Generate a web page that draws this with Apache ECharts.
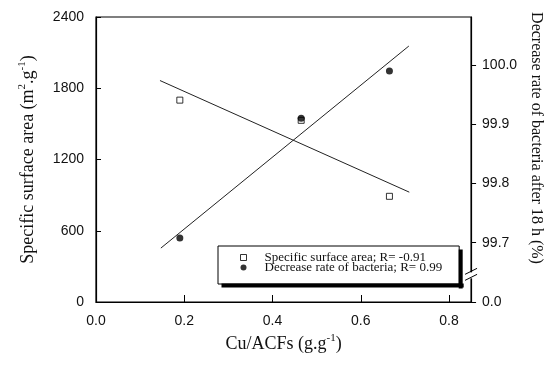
<!DOCTYPE html>
<html>
<head>
<meta charset="utf-8">
<script src="https://cdn.jsdelivr.net/npm/echarts@6/dist/echarts.min.js"></script>
<style>html,body{margin:0;padding:0;background:#fff}#c{width:552px;height:365px}</style>
</head>
<body>
<div id="c"></div>
<script>
// ---- data ----
const cuLoading = [0.19, 0.465, 0.665];               // Cu/ACFs (g/g)
const surfaceArea = [1700, 1530, 890];                // m2/g (left axis)
const bacteriaRate = [99.708, 99.91, 99.99];           // % (right axis)
const surfaceFitX = [0.145, 0.71];
const surfaceFitY = [1865, 925];
const bacteriaFitX = [0.147, 0.709];
const bacteriaFitY = [99.691, 100.032];
const xTickValues = [0, 0.2, 0.4, 0.6, 0.8];
const xTickLabels = ['0.0', '0.2', '0.4', '0.6', '0.8'];
const leftTickValues = [0, 600, 1200, 1800, 2400];
const leftTickLabels = ['0', '600', '1200', '1800', '2400'];
const rightTickValues = [99.6, 99.7, 99.8, 99.9, 100.0];
const rightTickLabels = ['0.0', '99.7', '99.8', '99.9', '100.0'];
const seriesNames = ['Specific surface area; R= -0.91', 'Decrease rate of bacteria; R= 0.99'];

const pair = (xs, ys) => xs.map((x, i) => [x, ys[i]]);
const labelFor = (vals, labs) => v => {
  for (let i = 0; i < vals.length; i++) if (Math.abs(vals[i] - v) < 1e-6) return labs[i];
  return '';
};

const sans = 'Liberation Sans, Arial, sans-serif';
const serif = 'Liberation Serif, Times New Roman, serif';
const axisLine = { show: true, lineStyle: { color: '#000', width: 1.2 } };
const tickLabel = { color: '#111', fontFamily: sans, fontSize: 14 };
const supRich = { sup: { fontSize: 11, verticalAlign: 'top', lineHeight: 12, fontFamily: serif, color: '#111' } };

const LEG_LEFT = 218, LEG_TOP = 246;

const chart = echarts.init(document.getElementById('c'), null, { renderer: 'canvas' });
chart.setOption({
  animation: false,
  backgroundColor: '#fff',
  grid: { left: 96, top: 17, right: 75, bottom: 63, show: true, borderColor: '#000', borderWidth: 1.2, backgroundColor: 'transparent' },
  legend: {
    data: seriesNames,
    orient: 'vertical',
    left: LEG_LEFT, top: LEG_TOP,
    padding: [5, 17, 10, 22],
    itemGap: -3,
    itemWidth: 6, itemHeight: 6,
    backgroundColor: '#fff',
    borderColor: '#000', borderWidth: 1,
    itemStyle: { borderWidth: 1 },
    textStyle: { fontFamily: serif, fontSize: 13, color: '#111', lineHeight: 10, padding: [0, 0, 0, 13] },
    selectedMode: false,
    z: 10
  },
  xAxis: {
    type: 'value', min: 0, max: 0.85,
    axisLine: axisLine,
    axisTick: { show: true, inside: true, length: 7, customValues: xTickValues, lineStyle: { color: '#000', width: 1 } },
    axisLabel: { ...tickLabel, margin: 12, customValues: xTickValues, formatter: labelFor(xTickValues, xTickLabels) },
    splitLine: { show: false },
    name: 'Cu/ACFs (g.g{sup|-1})',
    nameLocation: 'middle', nameGap: 26,
    nameTextStyle: { fontFamily: serif, fontSize: 18, color: '#111', lineHeight: 22, rich: supRich }
  },
  yAxis: [
    {
      type: 'value', min: 0, max: 2400, position: 'left',
      axisLine: axisLine,
      axisTick: { show: true, inside: true, length: 5, customValues: leftTickValues, lineStyle: { color: '#000', width: 1 } },
      axisLabel: { ...tickLabel, margin: 12, customValues: leftTickValues, formatter: labelFor(leftTickValues, leftTickLabels) },
      splitLine: { show: false },
      name: 'Specific surface area (m{sup|2}.g{sup|-1})',
      nameLocation: 'middle', nameGap: 57, nameRotate: 90,
      nameTextStyle: { fontFamily: serif, fontSize: 18, color: '#111', lineHeight: 22, rich: supRich }
    },
    {
      type: 'value', min: 99.6, max: 100.081, position: 'right',
      axisLine: axisLine,
      axisTick: { show: true, inside: false, length: 5, customValues: rightTickValues, lineStyle: { color: '#000', width: 1 } },
      axisLabel: { ...tickLabel, margin: 11, customValues: rightTickValues, formatter: labelFor(rightTickValues, rightTickLabels) },
      splitLine: { show: false },
      name: 'Decrease rate of bacteria after 18 h (%)',
      nameLocation: 'middle', nameGap: 53, nameRotate: -90,
      nameTextStyle: { fontFamily: serif, fontSize: 16, color: '#111', padding: [0, 43, 0, 0] }
    }
  ],
  series: [
    {
      name: seriesNames[0], type: 'scatter', yAxisIndex: 0,
      data: pair(cuLoading, surfaceArea),
      symbol: 'rect', symbolSize: 6,
      itemStyle: { color: '#fff', borderColor: '#000', borderWidth: 1 }
    },
    {
      name: seriesNames[1], type: 'scatter', yAxisIndex: 1,
      data: pair(cuLoading, bacteriaRate),
      symbol: 'circle', symbolSize: 7,
      itemStyle: { color: '#000' }
    },
    {
      name: 'surfaceFit', type: 'line', yAxisIndex: 0,
      data: pair(surfaceFitX, surfaceFitY),
      symbol: 'none', lineStyle: { color: '#222', width: 1 }, z: 1
    },
    {
      name: 'bacteriaFit', type: 'line', yAxisIndex: 1,
      data: pair(bacteriaFitX, bacteriaFitY),
      symbol: 'none', lineStyle: { color: '#222', width: 1 }, z: 1
    }
  ]
});

// measure legend box for its drop shadow
let lx = LEG_LEFT, ly = LEG_TOP, lw = 242, lh = 37;
try {
  const views = chart._componentsViews || [];
  const lv = views.find(v => v && v.__model && v.__model.mainType === 'legend');
  if (lv) {
    const g = lv.group;
    const r = g.getBoundingRect();
    if (isFinite(r.x) && isFinite(r.width) && r.width > 50 && r.width < 400) {
      lx = g.x + r.x; ly = g.y + r.y; lw = r.width; lh = r.height;
    }
  }
} catch (e) {}

// axis-break mark on the right axis between "0.0" and "99.7"
const bx = chart.convertToPixel({ xAxisIndex: 0 }, 0.85);
const by = chart.convertToPixel({ yAxisIndex: 1 }, 99.645);
chart.setOption({
  graphic: {
    elements: [
      // drop shadow of the legend box: right strip and bottom strip
      { type: 'rect', id: 'shR', shape: { x: lx + lw - 1, y: ly + 4, width: 4, height: lh }, style: { fill: '#000' }, z: 50 },
      { type: 'rect', id: 'shB', shape: { x: lx + 4, y: ly + lh - 1, width: lw, height: 4 }, style: { fill: '#000' }, z: 50 },
      { type: 'rect', id: 'brkW', shape: { x: bx - 3, y: by - 3, width: 6, height: 6 }, style: { fill: '#fff' }, z: 100 },
      { type: 'line', id: 'brk1', shape: { x1: bx - 6, y1: by - 1, x2: bx + 6, y2: by - 7 }, style: { stroke: '#000', lineWidth: 1 }, z: 101 },
      { type: 'line', id: 'brk2', shape: { x1: bx - 6, y1: by + 5, x2: bx + 6, y2: by - 1 }, style: { stroke: '#000', lineWidth: 1 }, z: 101 }
    ]
  }
});
</script>
</body>
</html>
